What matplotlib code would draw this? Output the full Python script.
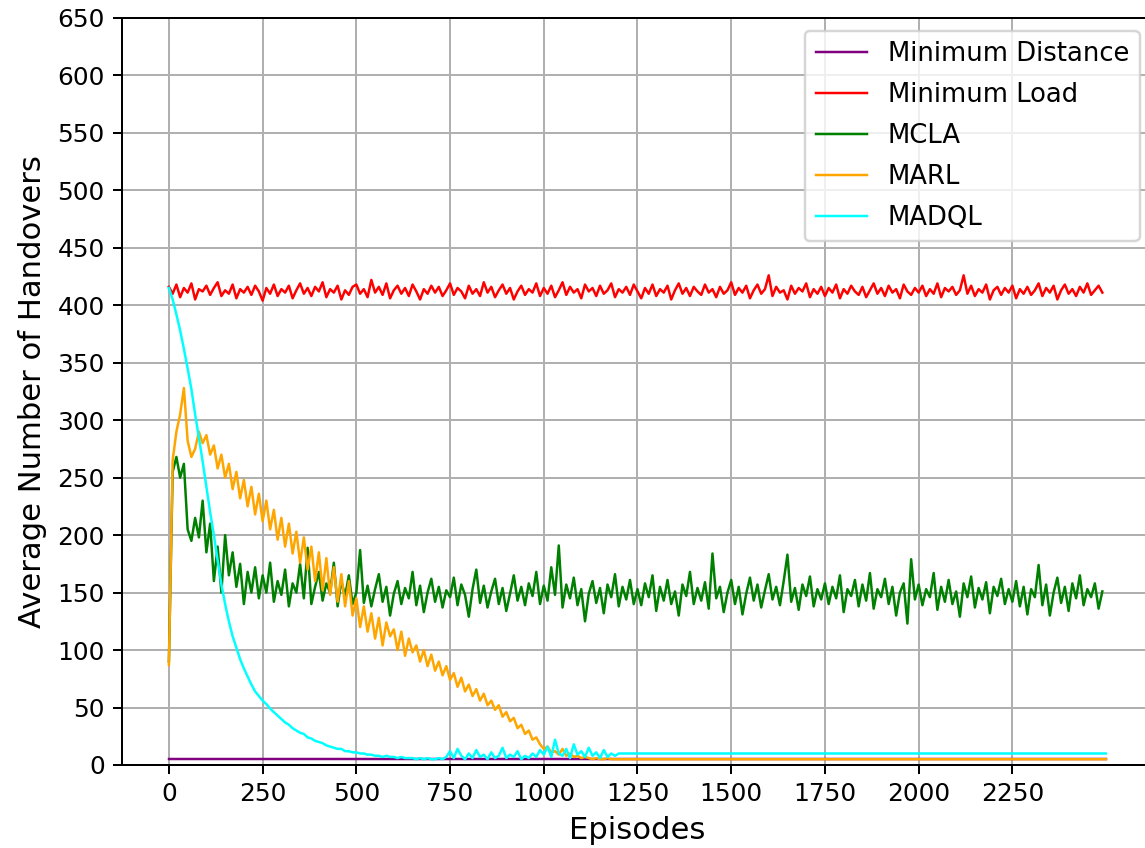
import numpy as np
import matplotlib
matplotlib.use("Agg")
import matplotlib.pyplot as plt

# episodes sampled every 10
ep_full = np.arange(0, 2500, 10)
ep_short = list(range(0, 1210, 10)) + [2499]

min_distance_ep = [0, 2499]
min_distance = [5, 5]

min_load = [
    416, 410, 418, 407, 415, 411, 419, 405, 414, 412, 417, 409, 415, 420, 408, 413, 410, 418, 406, 414, 411, 416, 409, 417, 412,
    404, 415, 410, 418, 408, 414, 411, 417, 406, 413, 419, 410, 415, 408, 416, 412, 420, 407, 414, 411, 417, 405, 413, 409, 416,
    418, 410, 414, 407, 422, 411, 416, 409, 419, 406, 413, 417, 410, 415, 408, 418, 412, 405, 414, 410, 417, 411, 416, 408, 413,
    419, 409, 415, 412, 406, 417, 410, 414, 408, 420, 411, 416, 407, 413, 418, 410, 415, 405, 412, 417, 409, 414, 411, 419, 408,
    415, 410, 417, 407, 413, 420, 409, 416, 411, 414, 406, 418, 412, 415, 408, 417, 410, 413, 419, 407, 414, 411, 416, 409, 418,
    412, 406, 415, 410, 418, 408, 414, 411, 417, 405, 413, 419, 410, 415, 408, 416, 412, 409, 418, 411, 414, 407, 416, 410, 413,
    420, 409, 415, 411, 417, 406, 413, 418, 410, 414, 426, 408, 416, 411, 413, 405, 417, 410, 415, 412, 419, 407, 414, 410, 416,
    408, 415, 411, 418, 406, 414, 410, 417, 412, 409, 416, 407, 413, 419, 410, 415, 408, 417, 411, 414, 406, 418, 412, 409, 415,
    411, 417, 408, 414, 410, 419, 407, 415, 412, 416, 409, 413, 426, 410, 417, 408, 414, 411, 418, 405, 413, 416, 409, 415, 411,
    417, 406, 414, 410, 416, 409, 413, 419, 408, 415, 411, 417, 405, 413, 418, 410, 414, 408, 416, 411, 419, 409, 413, 417, 411,
]

mcla = [
    90, 255, 268, 250, 262, 205, 195, 215, 198, 230, 185, 210, 160, 190, 150, 200, 165, 185, 155, 175, 140, 168, 150, 172, 145,
    165, 150, 176, 142, 160, 148, 170, 138, 158, 150, 175, 145, 189, 140, 155, 168, 143, 158, 150, 176, 138, 160, 147, 165, 140,
    150, 187, 141, 156, 138, 153, 166, 142, 155, 130, 149, 160, 140, 154, 145, 168, 139, 156, 133, 150, 162, 142, 155, 137, 152,
    146, 163, 139, 157, 148, 129, 153, 170, 141, 156, 137, 151, 162, 140, 154, 134, 149, 165, 143, 155, 139, 158, 147, 168, 140,
    156, 143, 172, 148, 191, 137, 157, 145, 163, 139, 153, 125, 149, 160, 141, 154, 132, 157, 146, 166, 138, 155, 144, 161, 140,
    153, 139, 158, 146, 165, 134, 155, 143, 161, 140, 151, 130, 157, 147, 168, 140, 154, 143, 159, 136, 184, 145, 155, 133, 150,
    161, 140, 155, 131, 149, 163, 143, 157, 137, 152, 166, 144, 155, 139, 160, 183, 142, 154, 135, 157, 147, 164, 138, 153, 144,
    158, 140, 155, 145, 165, 133, 153, 147, 161, 138, 157, 143, 167, 136, 153, 146, 162, 140, 155, 130, 150, 158, 123, 179, 144,
    157, 139, 153, 146, 167, 135, 155, 142, 161, 140, 151, 129, 158, 146, 164, 137, 154, 144, 159, 132, 155, 147, 162, 140, 153,
    142, 160, 138, 155, 131, 153, 146, 174, 139, 157, 130, 150, 163, 141, 155, 134, 158, 145, 165, 139, 153, 146, 158, 136, 151,
]

marl = [
    87, 265, 290, 305, 328, 282, 268, 275, 290, 280, 287, 270, 278, 258, 270, 250, 262, 240, 255, 232, 248, 225, 242, 218, 236,
    212, 230, 205, 222, 196, 215, 190, 210, 184, 203, 176, 198, 170, 190, 160, 185, 152, 180, 148, 172, 142, 166, 138, 160, 130,
    145, 120, 138, 116, 132, 110, 128, 104, 124, 112, 118, 100, 116, 95, 110, 98, 104, 90, 100, 86, 96, 82, 90, 78, 86,
    74, 80, 68, 76, 64, 70, 60, 66, 56, 62, 52, 56, 48, 52, 42, 46, 38, 41, 32, 35, 27, 30, 22, 24, 18,
    14, 16, 11, 12, 9, 14, 8, 10, 7, 8, 6, 7, 6, 5, 6, 5, 5, 6, 5, 5, 5,
    5,
]

madql = [
    415, 405, 392, 378, 362, 345, 327, 305, 285, 264, 242, 220, 200, 178, 157, 140, 125, 112, 102, 92, 84, 77, 70, 64, 60,
    56, 53, 49, 46, 43, 40, 37, 35, 32, 30, 28, 27, 24, 23, 21, 20, 19, 17, 16, 15, 14, 14, 12, 12, 11,
    11, 10, 10, 9, 9, 8, 8, 7, 8, 7, 7, 6, 7, 6, 6, 6, 5, 6, 5, 6, 5, 5, 6, 5, 7,
    12, 6, 14, 8, 5, 10, 6, 13, 7, 9, 5, 11, 6, 8, 15, 6, 9, 7, 12, 5, 8, 6, 10, 7, 13,
    9, 16, 7, 22, 10, 8, 14, 6, 18, 9, 12, 7, 15, 8, 11, 6, 13, 7, 10, 8, 10,
    10,
]

fig = plt.figure(figsize=(1145 / 179, 848 / 179), dpi=179)
# right edge of the axes sits just past the image border, as in the reference
ax = fig.add_axes([0.1066, 0.0979, 0.900, 0.881])

ax.plot(min_distance_ep, min_distance, color="purple", lw=1, label="Minimum Distance")
ax.plot(ep_full, min_load, color="red", lw=1, label="Minimum Load")
ax.plot(ep_full, mcla, color="green", lw=1, label="MCLA")
ax.plot(ep_short, marl, color="orange", lw=1, label="MARL")
ax.plot(ep_short, madql, color="cyan", lw=1, label="MADQL")

ax.set_ylim(0, 650)
ax.set_yticks(np.arange(0, 651, 50))
ax.set_xticks(np.arange(0, 2500, 250))
ax.tick_params(labelsize=10)
ax.grid(True)
ax.set_xlabel("Episodes", fontsize=12.3)
ax.set_ylabel("Average Number of Handovers", fontsize=12.3)
ax.legend(loc="upper right", fontsize=10.4, labelspacing=0.58)

fig.savefig("out.png", dpi=179)
